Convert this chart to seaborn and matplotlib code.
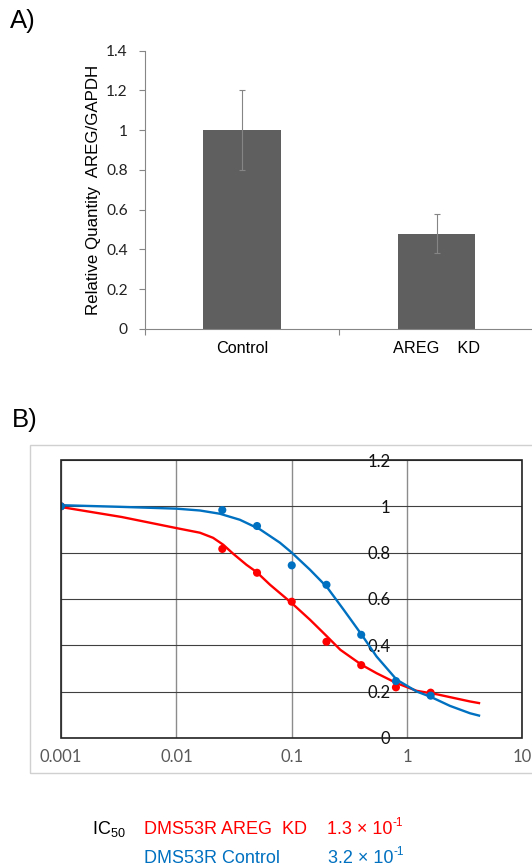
import matplotlib
matplotlib.use("Agg")
import matplotlib.pyplot as plt
from matplotlib.patches import Rectangle
from matplotlib.ticker import NullLocator, FixedLocator
import seaborn as sns

# Panel A data
categories = ['Control', 'AREG    KD']
quantity = [1.0, 0.48]
quantity_err = [0.2, 0.1]
a_yticks = [0, 0.2, 0.4, 0.6, 0.8, 1.0, 1.2, 1.4]
a_yticklabels = ['0', '0.2', '0.4', '0.6', '0.8', '1', '1.2', '1.4']

# Panel B data (measured points)
doses = [0.001, 0.025, 0.05, 0.1, 0.2, 0.4, 0.8, 1.6]
ctrl_viability = [1.0, 0.984, 0.915, 0.745, 0.661, 0.445, 0.245, 0.182]
kd_viability = [1.0, 0.816, 0.713, 0.588, 0.415, 0.314, 0.218, 0.195]

# fitted curves
ctrl_curve_x = [0.001, 0.00316, 0.01, 0.016, 0.0238, 0.0355, 0.0529, 0.0789, 0.1,
                0.144, 0.202, 0.282, 0.331, 0.404, 0.544, 0.812, 1.21, 1.6, 2.35,
                3.51, 4.2]
ctrl_curve_y = [1.005, 0.998, 0.990, 0.982, 0.968, 0.942, 0.901, 0.843, 0.800,
                0.726, 0.651, 0.553, 0.505, 0.445, 0.351, 0.251, 0.200, 0.177, 0.138,
                0.106, 0.096]
kd_curve_x = [0.001, 0.00335, 0.01, 0.016, 0.0208, 0.0255, 0.0311, 0.0406, 0.0496,
              0.0649, 0.1, 0.144, 0.202, 0.264, 0.404, 0.544, 0.812, 1.21, 1.81,
              2.6, 3.51, 4.2]
kd_curve_y = [0.997, 0.954, 0.906, 0.886, 0.864, 0.834, 0.795, 0.747, 0.716,
              0.661, 0.582, 0.510, 0.438, 0.380, 0.315, 0.279, 0.236, 0.203, 0.188,
              0.171, 0.157, 0.150]

b_xticks = [0.001, 0.01, 0.1, 1, 10]
b_xticklabels = ['0.001', '0.01', '0.1', '1', '10']
b_yticks = [0, 0.2, 0.4, 0.6, 0.8, 1.0, 1.2]
b_yticklabels = ['0', '0.2', '0.4', '0.6', '0.8', '1', '1.2']

RED = '#ff0000'
BLUE = '#0070c0'

plt.rcParams['font.family'] = ['Liberation Sans', 'DejaVu Sans']
plt.rcParams['mathtext.default'] = 'regular'

fig = plt.figure(figsize=(5.32, 8.68), dpi=100)

# ---- A) bar chart
ax_a = fig.add_axes([0.273, 0.621, 0.73, 0.3206])
sns.barplot(x=categories, y=quantity, color='#5f5f5f', saturation=1, width=0.4,
            errorbar=None, ax=ax_a)
ax_a.errorbar(range(len(categories)), quantity, yerr=quantity_err, fmt='none',
              ecolor='#858585', elinewidth=0.8, capsize=2.2, capthick=0.8, zorder=3)
ax_a.set_xlim(-0.5, 1.5)
ax_a.set_ylim(0, 1.4)
ax_a.set_yticks(a_yticks)
ax_a.set_yticklabels(a_yticklabels)
ax_a.xaxis.set_minor_locator(FixedLocator([-0.5, 0.5, 1.5]))
ax_a.tick_params(axis='x', which='major', length=0, pad=9, labelsize=11.7)
ax_a.tick_params(axis='x', which='minor', length=4.5, color='#868686', width=0.8)
ax_a.tick_params(axis='y', length=4.5, color='#868686', width=0.8, pad=8,
                 labelsize=11.2, labelcolor='#222222', labelfontfamily='Lato')
for side in ['top', 'right']:
    ax_a.spines[side].set_visible(False)
for side in ['left', 'bottom']:
    ax_a.spines[side].set_color('#868686')
    ax_a.spines[side].set_linewidth(0.8)
ax_a.set_xlabel('')
ax_a.set_ylabel('Relative Quantity  AREG/GAPDH', fontsize=12.2, labelpad=4)

fig.text(0.019, 0.976, 'A)', fontsize=18.5, va='center', ha='left')

# ---- B) dose response
fig.patches.append(Rectangle((0.0573, 0.1091), 1.0, 0.3783, transform=fig.transFigure,
                             fill=False, edgecolor='#d0d0d0', linewidth=1.0))

ax_b = fig.add_axes([0.1147, 0.150, 0.8674, 0.320])
sns.lineplot(x=kd_curve_x, y=kd_curve_y, color=RED, linewidth=1.7, ax=ax_b, zorder=3)
sns.lineplot(x=ctrl_curve_x, y=ctrl_curve_y, color=BLUE, linewidth=1.7, ax=ax_b, zorder=3)
sns.scatterplot(x=doses, y=kd_viability, color=RED, s=34, edgecolor='none',
                ax=ax_b, zorder=4)
sns.scatterplot(x=doses, y=ctrl_viability, color=BLUE, s=34, edgecolor='none',
                ax=ax_b, zorder=4)
ax_b.set_xscale('log')
ax_b.spines['left'].set_position(('data', 1))
ax_b.set_xlim(0.001, 10)
ax_b.set_ylim(0, 1.2)
ax_b.set_xticks(b_xticks)
ax_b.set_xticklabels(b_xticklabels)
ax_b.xaxis.set_minor_locator(NullLocator())
ax_b.set_yticks(b_yticks)
ax_b.set_yticklabels(b_yticklabels)
for side in ['left', 'right', 'top', 'bottom']:
    ax_b.spines[side].set_visible(False)
ax_b.tick_params(axis='both', length=0, labelsize=12, labelfontfamily='Lato')
ax_b.tick_params(axis='y', pad=12, labelcolor='#111111')
ax_b.tick_params(axis='x', pad=8, labelcolor='#595959')
ax_b.set_axisbelow(True)
ax_b.grid(axis='x', color='#8c8c8c', linewidth=1.0)
ax_b.grid(axis='y', color='#404040', linewidth=0.8)
ax_b.add_patch(Rectangle((0, 0), 1, 1, transform=ax_b.transAxes, fill=False,
                         edgecolor='#222222', linewidth=1.2, zorder=5, clip_on=False))
ax_b.set_xlabel('')
ax_b.set_ylabel('')

fig.text(0.0226, 0.516, 'B)', fontsize=18.5, va='center', ha='left')

# ---- IC50 text
fig.text(0.172, 0.0446, 'IC$_{50}$', fontsize=13, va='center', ha='left')
fig.text(0.271, 0.0446, 'DMS53R AREG  KD', fontsize=13, va='center', ha='left', color=RED)
ic_kd = fig.text(0.614, 0.0446, '1.3 × 10', fontsize=13, va='center', ha='left', color=RED)
fig.text(0.271, 0.0115, 'DMS53R Control', fontsize=13, va='center', ha='left', color=BLUE)
ic_ctrl = fig.text(0.617, 0.0115, '3.2 × 10', fontsize=13, va='center', ha='left', color=BLUE)
for base, col in [(ic_kd, RED), (ic_ctrl, BLUE)]:
    ax_b.annotate('-1', xy=(1.0, 0.85), xycoords=base, fontsize=8.5, color=col,
                  ha='left', va='center', annotation_clip=False)

fig.savefig('out.png', dpi=100)
